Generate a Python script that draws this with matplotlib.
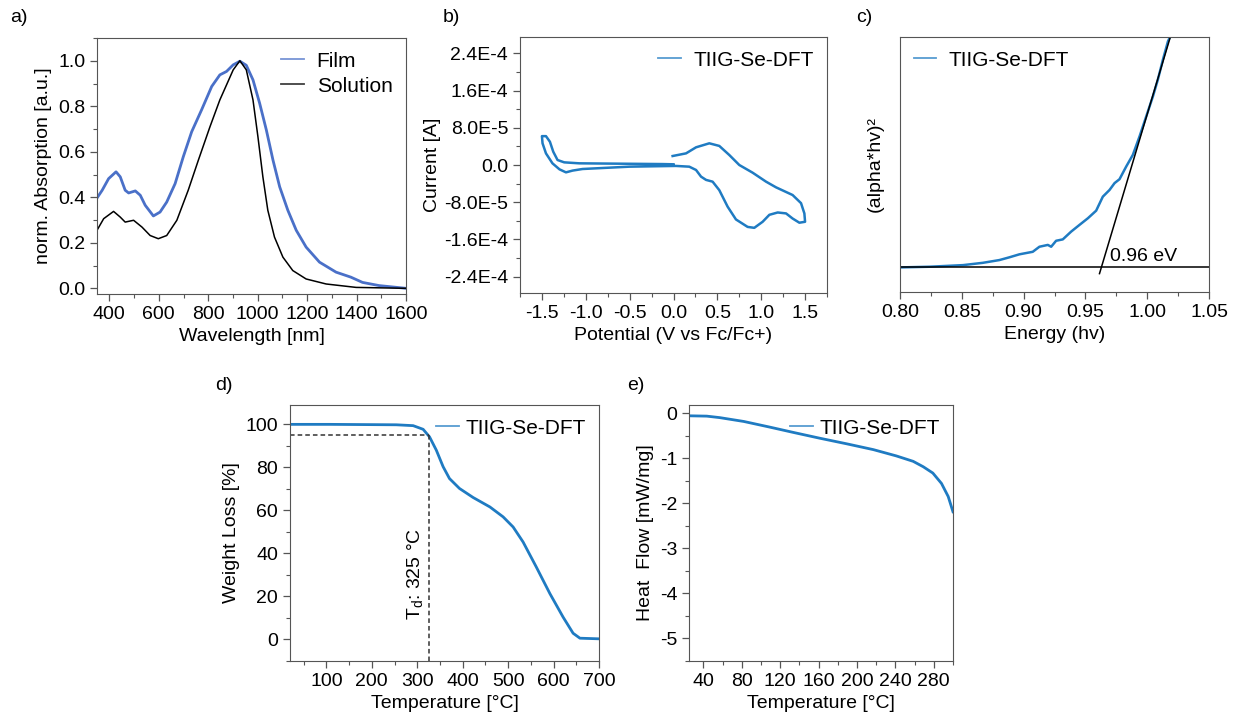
import matplotlib
matplotlib.use("Agg")
import matplotlib.pyplot as plt
from matplotlib.ticker import MultipleLocator

# a) absorption
film_wl = [352, 371, 397, 427, 444, 464, 478, 505, 525, 545, 578, 605, 632, 666, 699, 733,
           773, 814, 847, 874, 901, 928, 954, 981, 1008, 1035, 1062, 1089, 1122, 1156, 1196,
           1250, 1317, 1377, 1424, 1491, 1600]
film_abs = [0.40, 0.431, 0.482, 0.512, 0.49, 0.431, 0.419, 0.428, 0.409, 0.365, 0.318, 0.335,
            0.379, 0.46, 0.578, 0.688, 0.784, 0.887, 0.938, 0.953, 0.982, 0.998, 0.98, 0.916,
            0.813, 0.696, 0.563, 0.446, 0.343, 0.255, 0.181, 0.115, 0.071, 0.049, 0.026, 0.012,
            0.0]
sol_wl = [350, 377, 417, 444, 464, 498, 532, 565, 598, 632, 673, 719, 760, 807, 847, 874,
          901, 928, 954, 981, 1001, 1021, 1041, 1068, 1102, 1142, 1196, 1277, 1398, 1600]
sol_abs = [0.255, 0.306, 0.338, 0.313, 0.291, 0.299, 0.269, 0.232, 0.218, 0.232, 0.299, 0.431,
           0.563, 0.71, 0.828, 0.894, 0.96, 1.0, 0.96, 0.828, 0.666, 0.49, 0.343, 0.225, 0.137,
           0.078, 0.041, 0.019, 0.004, 0.0]

# b) cyclic voltammetry
cv_v = [-0.010, 0.143, 0.257, 0.408, 0.522, 0.636, 0.75, 0.902, 1.055, 1.169, 1.358, 1.454,
        1.492, 1.5, 1.435, 1.358, 1.283, 1.188, 1.093, 1.016, 0.921, 0.845, 0.712, 0.617,
        0.522, 0.446, 0.371, 0.314, 0.257, 0.18, 0.028, -0.504, -1.037, -1.15, -1.226,
        -1.30, -1.38, -1.454, -1.493, -1.5, -1.454, -1.409, -1.371, -1.322, -1.246, -1.075,
        -0.124, 0.0]
cv_i = [1.93e-5, 2.5e-5, 3.8e-5, 4.66e-5, 4.1e-5, 2.15e-5, 0.0, -1.65e-5, -3.58e-5, -4.8e-5,
        -6.45e-5, -8.2e-5, -1.04e-4, -1.22e-4, -1.24e-4, -1.15e-4, -1.04e-4, -1.02e-4,
        -1.07e-4, -1.22e-4, -1.35e-4, -1.33e-4, -1.17e-4, -8.95e-5, -5.4e-5, -3.58e-5,
        -3.2e-5, -2.5e-5, -1.07e-5, -3.6e-6, -2e-6, -3.6e-6, -8.6e-6, -1.2e-5, -1.58e-5,
        -9.3e-6, 3.6e-6, 2.5e-5, 4.66e-5, 6.2e-5, 6.2e-5, 5e-5, 2.86e-5, 1.07e-5, 5.7e-6,
        3.6e-6, 2e-6, 1.5e-6]

# c) Tauc plot
tauc_e = [0.80, 0.824, 0.851, 0.867, 0.8804, 0.8885, 0.8966, 0.9074, 0.9128, 0.9196, 0.9223,
          0.9263, 0.9317, 0.9385, 0.9452, 0.952, 0.9587, 0.9641, 0.9695, 0.9736, 0.9776,
          0.983, 0.9884, 0.9938, 0.9992, 1.0046, 1.0086, 1.0127, 1.0168, 1.0187]
tauc_y = [-0.003, 0.0, 0.007, 0.017, 0.029, 0.041, 0.054, 0.065, 0.087, 0.095, 0.087, 0.113,
          0.119, 0.153, 0.182, 0.211, 0.244, 0.305, 0.334, 0.364, 0.381, 0.436, 0.487, 0.567,
          0.654, 0.741, 0.814, 0.901, 0.981, 1.003]
tangent_e = [0.9614, 1.0187]
tangent_y = [-0.03, 1.0]

# d) TGA
tga_t = [20, 107, 254, 291, 313, 327, 342, 357, 371, 393, 423, 460, 489, 511, 533, 562, 592,
         621, 643, 658, 701]
tga_w = [100, 100, 99.8, 99.4, 97.7, 94.2, 88, 80.3, 74.8, 70.2, 66, 61.6, 57, 52.3, 45.3,
         33.7, 21.3, 10.4, 2.9, 0.6, 0.3]
td = 325
td_w = 95

# e) DSC
dsc_t = [26, 43.5, 57, 82, 109, 134, 161, 189, 217, 241, 258.5, 269, 279, 288, 295, 300]
dsc_q = [-0.06, -0.067, -0.1, -0.185, -0.31, -0.43, -0.556, -0.68, -0.81, -0.95, -1.07,
         -1.19, -1.33, -1.56, -1.85, -2.19]

plt.rcParams['font.family'] = ['Liberation Sans', 'DejaVu Sans']
plt.rcParams['font.size'] = 14
plt.rcParams['axes.edgecolor'] = '#555555'
plt.rcParams['axes.unicode_minus'] = False
plt.rcParams['lines.solid_joinstyle'] = 'round'

BLUE = '#1f7bc2'
FILM = '#4a70c8'
W, H = 1233, 713


def box(l, t, r, b):
    return [l / W, 1 - b / H, (r - l) / W, (b - t) / H]


def style(ax):
    ax.tick_params(which='major', length=5, width=0.9, color='#555555', labelsize=14)
    ax.tick_params(which='minor', length=3, width=0.8, color='#555555')


def legend(ax, loc, pad=0.6):
    leg = ax.legend(loc=loc, frameon=False, handlelength=1.1, handletextpad=pad,
                    borderaxespad=0.25, labelspacing=0.3, fontsize=15)
    for ln in leg.get_lines():
        ln.set_linewidth(1.3)
        ln.set_alpha(0.75)
    return leg


fig = plt.figure(figsize=(12.33, 7.13), dpi=100)

# a
ax = fig.add_axes(box(97, 38, 406, 294))
ax.plot(film_wl, film_abs, color=FILM, lw=2, label='Film')
ax.plot(sol_wl, sol_abs, color='black', lw=1.1, label='Solution')
ax.set_xlim(350, 1600)
ax.set_ylim(-0.025, 1.10)
ax.xaxis.set_major_locator(MultipleLocator(200))
ax.xaxis.set_minor_locator(MultipleLocator(100))
ax.yaxis.set_major_locator(MultipleLocator(0.2))
ax.yaxis.set_minor_locator(MultipleLocator(0.1))
ax.yaxis.set_major_formatter(lambda v, p: f'{v:.1f}')
ax.set_xlabel('Wavelength [nm]')
ax.set_ylabel('norm. Absorption [a.u.]')
legend(ax, 'upper right')
style(ax)

# b
ax = fig.add_axes(box(520, 37, 827, 293))
ax.plot(cv_v, cv_i, color=BLUE, lw=1.8, label='TIIG-Se-DFT')
ax.set_xlim(-1.75, 1.75)
ax.set_ylim(-2.75e-4, 2.75e-4)
ax.xaxis.set_major_locator(MultipleLocator(0.5))
ax.xaxis.set_minor_locator(MultipleLocator(0.25))
ax.yaxis.set_major_locator(MultipleLocator(8e-5))
ax.yaxis.set_minor_locator(MultipleLocator(4e-5))


def sci(v, p):
    if abs(v) < 1e-12:
        return '0.0'
    m, e = f'{v:.1E}'.split('E')
    return f'{m}E{int(e)}'


ax.yaxis.set_major_formatter(sci)
ax.set_xlabel('Potential (V vs Fc/Fc+)')
ax.set_ylabel('Current [A]', labelpad=2)
legend(ax, 'upper right')
style(ax)

# c
ax = fig.add_axes(box(900, 37, 1209, 292))
ax.plot(tauc_e, tauc_y, color=BLUE, lw=1.8, label='TIIG-Se-DFT')
ax.plot(tangent_e, tangent_y, color='black', lw=1.1)
ax.axhline(0, color='black', lw=1.1)
ax.text(0.9695, 0.024, '0.96 eV', fontsize=14, ha='left', va='baseline')
ax.set_xlim(0.80, 1.05)
ax.set_ylim(-0.11, 1.0)
ax.xaxis.set_major_locator(MultipleLocator(0.05))
ax.xaxis.set_minor_locator(MultipleLocator(0.025))
ax.xaxis.set_major_formatter(lambda v, p: f'{v:.2f}')
ax.set_yticks([])
ax.set_xlabel('Energy (hv)')
ax.set_ylabel('(alpha*hv)²', labelpad=12)
legend(ax, 'upper left')
style(ax)

# d
ax = fig.add_axes(box(290, 405, 599, 661))
ax.plot(tga_t, tga_w, color=BLUE, lw=2, label='TIIG-Se-DFT')
ax.plot([20, td], [td_w, td_w], color='#333333', lw=1.1, ls=(0, (3, 2)))
ax.plot([td, td], [td_w, -10], color='#333333', lw=1.1, ls=(0, (3, 2)))
ax.text(td - 5, 9, 'T$_\\mathregular{d}$: 325 °C', rotation=90, ha='right', va='bottom',
        fontsize=14)
ax.set_xlim(20, 700)
ax.set_ylim(-10, 109)
ax.xaxis.set_major_locator(MultipleLocator(100))
ax.xaxis.set_minor_locator(MultipleLocator(50))
ax.yaxis.set_major_locator(MultipleLocator(20))
ax.yaxis.set_minor_locator(MultipleLocator(10))
ax.set_xlabel('Temperature [°C]')
ax.set_ylabel('Weight Loss [%]')
legend(ax, 'upper right', pad=0.3)
style(ax)

# e
ax = fig.add_axes(box(689, 405, 953, 661))
ax.plot(dsc_t, dsc_q, color=BLUE, lw=2, label='TIIG-Se-DFT')
ax.set_xlim(25, 300)
ax.set_ylim(-5.5, 0.18)
ax.xaxis.set_major_locator(MultipleLocator(40))
ax.xaxis.set_minor_locator(MultipleLocator(20))
ax.yaxis.set_major_locator(MultipleLocator(1))
ax.yaxis.set_minor_locator(MultipleLocator(0.5))
ax.set_xlabel('Temperature [°C]')
ax.set_ylabel('Heat  Flow [mW/mg]')
legend(ax, 'upper right', pad=0.3)
style(ax)

for lbl, x, y in [('a)', 10, 17), ('b)', 443, 17), ('c)', 856, 17), ('d)', 215, 385),
                  ('e)', 627, 385)]:
    fig.text(x / W, 1 - y / H, lbl, fontsize=14, ha='left', va='center')

fig.savefig('out.png', dpi=100)
